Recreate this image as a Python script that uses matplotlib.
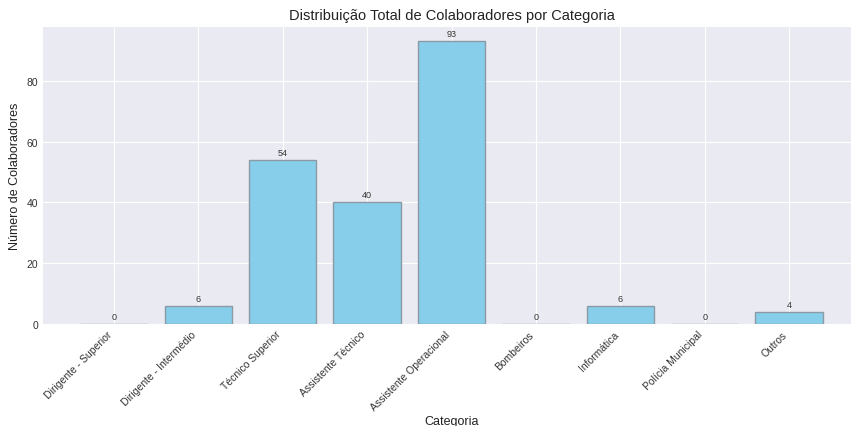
import matplotlib
matplotlib.use("Agg")
import matplotlib.pyplot as plt

categorias = [
    "Dirigente - Superior",
    "Dirigente - Intermédio",
    "Técnico Superior",
    "Assistente Técnico",
    "Assistente Operacional",
    "Bombeiros",
    "Informática",
    "Polícia Municipal",
    "Outros",
]
totais = [0, 6, 54, 40, 93, 0, 6, 0, 4]

plt.style.use("seaborn-v0_8-darkgrid")
plt.rcParams["font.family"] = ["Liberation Sans", "DejaVu Sans"]

fig = plt.figure(figsize=(8.51, 4.27), dpi=100)
ax = fig.add_axes([43 / 851, 1 - 325 / 427, (860 - 43) / 851, (325 - 28) / 427])

x = range(len(categorias))
bars = ax.bar(x, totais, color="skyblue", edgecolor="#8c9aa3", linewidth=1.0)
for b, v in zip(bars, totais):
    ax.text(b.get_x() + b.get_width() / 2, v + 1, str(v), ha="center", va="bottom",
            fontsize=6.5, color="#333333")

ax.set_xticks(list(x))
ax.set_xticklabels(categorias, rotation=45, ha="right", fontsize=7.5, color="#333333")
ax.tick_params(axis="y", labelsize=7.5, labelcolor="#333333")
ax.set_title("Distribuição Total de Colaboradores por Categoria", fontsize=10.5, color="#222222")
ax.set_xlabel("Categoria", fontsize=9, color="#222222", labelpad=2)
ax.set_ylabel("Número de Colaboradores", fontsize=9, color="#222222")

fig.savefig("out.png", dpi=100)
